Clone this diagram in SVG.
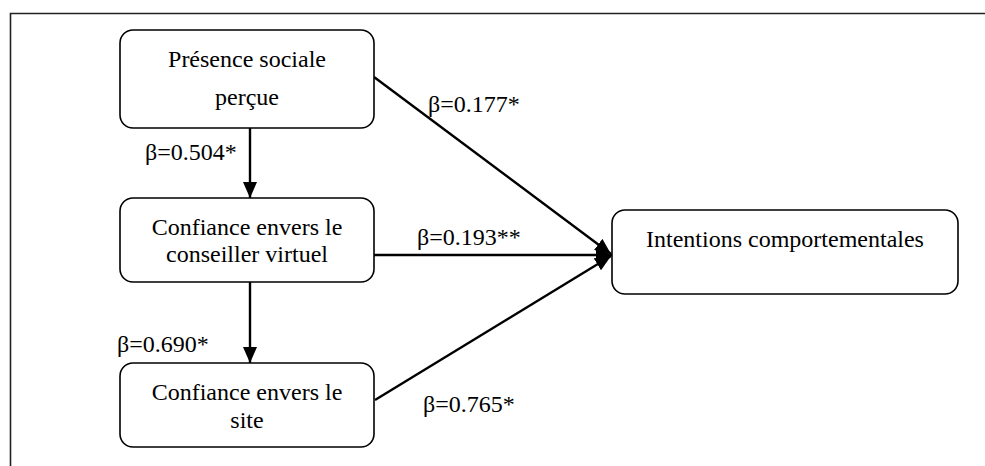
<svg xmlns="http://www.w3.org/2000/svg" width="985" height="466" viewBox="0 0 985 466">
<style>
.box{fill:#fff;stroke:#000;stroke-width:1.6}
.t{font-family:"Liberation Serif","Times New Roman",serif;font-size:24px;fill:#000;text-anchor:middle}
.lb{font-family:"Liberation Serif","Times New Roman",serif;font-size:24px;fill:#000}
.c{stroke:#000;stroke-width:2.4;fill:none}
</style>
<defs>
<marker id="ah" viewBox="0 0 16 14" refX="16" refY="7" markerWidth="16" markerHeight="14" markerUnits="userSpaceOnUse" orient="auto">
<path d="M0,0 L16,7 L0,14 Z" fill="#000"/>
</marker>
</defs>
<rect x="0" y="0" width="985" height="466" fill="#fff"/>
<path d="M10.5,466 L10.5,13.5 L985,13.5" fill="none" stroke="#222" stroke-width="1.6"/>
<g id="connectors">
<line class="c" x1="250" y1="128" x2="250" y2="198" marker-end="url(#ah)"/>
<line class="c" x1="250" y1="282" x2="250" y2="363" marker-end="url(#ah)"/>
<line class="c" x1="374" y1="77" x2="611" y2="254" marker-end="url(#ah)"/>
<line class="c" x1="374" y1="255" x2="612" y2="255" marker-end="url(#ah)"/>
<line class="c" x1="375" y1="400" x2="611" y2="256" marker-end="url(#ah)"/>
<text class="lb" x="145" y="160">β=0.504*</text>
<text class="lb" x="117" y="352">β=0.690*</text>
<text class="lb" x="428" y="112">β=0.177*</text>
<text class="lb" x="417" y="245">β=0.193**</text>
<text class="lb" x="423" y="412">β=0.765*</text>
</g>
<g id="n1">
<rect class="box" x="120" y="30" width="254" height="98" rx="13"/>
<text class="t" x="247" y="67">Présence sociale</text>
<text class="t" x="247" y="105">perçue</text>
</g>
<g id="n2">
<rect class="box" x="120" y="198" width="254" height="84" rx="13"/>
<text class="t" x="247" y="235">Confiance envers le</text>
<text class="t" x="247" y="262">conseiller virtuel</text>
</g>
<g id="n3">
<rect class="box" x="120" y="363" width="254" height="84" rx="13"/>
<text class="t" x="247" y="400">Confiance envers le</text>
<text class="t" x="247" y="428">site</text>
</g>
<g id="n4">
<rect class="box" x="612" y="210" width="346" height="84" rx="13"/>
<text class="t" x="785" y="247">Intentions comportementales</text>
</g>
</svg>
